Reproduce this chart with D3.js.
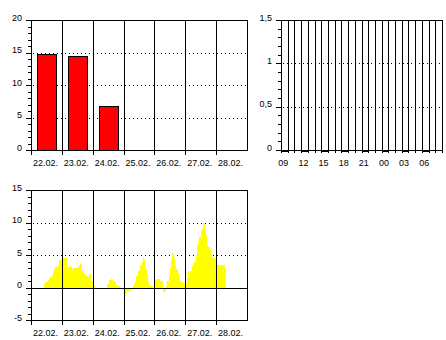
<!DOCTYPE html>
<meta charset="utf-8">
<style>
  body { margin: 0; background: #fff; }
  svg { display: block; font-family: "Liberation Sans", Arial, sans-serif; font-size: 9px; }
  .frame { fill: none; stroke: #000; shape-rendering: crispEdges; }
  .vline, .tick, .zero { stroke: #000; shape-rendering: crispEdges; }
  .grid { stroke: #000; stroke-dasharray: 1,3; }
  .bar { fill: #ff0000; stroke: #000; shape-rendering: crispEdges; }
  .area { fill: #ffff00; shape-rendering: crispEdges; }
</style>

<svg width="446" height="340"></svg>

<script src="https://d3js.org/d3.v7.min.js"></script>
<script>
// top left: daily totals
var days = ["22.02.", "23.02.", "24.02.", "25.02.", "26.02.", "27.02.", "28.02."];
var dayTotals = [14.7, 14.5, 6.7, null, null, null, null];
var ticks1 = [0, 5, 10, 15, 20];
var grid1 = [5, 10, 15];

// top right: last 24 hours (empty)
var hourLabels = ["09", "12", "15", "18", "21", "00", "03", "06"];
var ticks2 = [0, 0.5, 1, 1.5];
var grid2 = [0.5, 1];

// bottom: hourly values from 22.02. 10:00
var hourlyValues = [
  0.6, 0.8, 0.8, 1.1, 1.4, 1.6, 2.0, 2.5, 2.8, 3.1,
  3.3, 3.5, 4.2, 4.3, 4.5, 4.5, 4.5, 4.5, 3.0, 3.2,
  3.3, 3.2, 2.9, 3.0, 3.0, 3.0, 3.1, 3.5, 3.6, 3.6,
  2.5, 2.3, 2.0, 1.7, 1.6, 2.1, 2.1, 1.0, 0.5, 0.4,
  0, 0, 0, 0, 0, 0, 0, 0, 0, 0.5,
  0.5, 1.1, 1.3, 1.2, 1.0, 0.8, 0.4, 0.4, 0.3, 0.1,
  -0.3, -0.3, -1.0, -1.0, -0.8, -0.6, -0.5, -0.5, 0, 0.3,
  0.6, 1.0, 1.8, 2.5, 2.7, 3.5, 3.9, 4.5, 4.2, 2.8,
  2.0, 0.8, 0.3, 0.2, 0.2, -0.3, 1.1, 1.3, 1.3, 1.3,
  1.0, 1.0, 1.0, -0.7, -0.5, 0.3, 1.0, 2.0, 3.0, 4.3,
  5.3, 4.7, 3.5, 2.8, 2.2, 1.5, 1.0, 0.9, 0.7, 0.5,
  0.7, 1.5, 2.5, 1.8, 2.6, 3.3, 3.6, 4.0, 5.0, 6.5,
  7.0, 7.8, 8.8, 9.0, 9.9, 9.0, 8.0, 6.5, 6.2, 5.8,
  5.0, 4.7, 4.5, 4.4, 3.6, 3.5, 3.5, 3.4, 3.4, 3.5,
  3.4, 2.8
];
var ticks3 = [-5, 0, 5, 10, 15];
var grid3 = [5, 10];

var svg = d3.select("svg");
var px = function(v) { return Math.round(v) + 0.5; };
var comma = function(d) { return String(d).replace(".", ","); };

function yAxis(g, y, majors, minorStep, fmt) {
  var x0 = y.left;
  var lo = majors[0], hi = majors[majors.length - 1];
  var minors = d3.range(lo, hi + minorStep / 2, minorStep);
  g.selectAll(".minor").data(minors).enter().append("line")
    .attr("class", "tick")
    .attr("x1", x0 - 3).attr("x2", x0)
    .attr("y1", function(d) { return px(y(d)); })
    .attr("y2", function(d) { return px(y(d)); });
  g.selectAll(".major").data(majors).enter().append("line")
    .attr("class", "tick")
    .attr("x1", x0 - 5).attr("x2", x0)
    .attr("y1", function(d) { return px(y(d)); })
    .attr("y2", function(d) { return px(y(d)); });
  g.selectAll(".ylab").data(majors).enter().append("text")
    .attr("x", x0 - 9)
    .attr("y", function(d) { return y(d) + 0.5; })
    .attr("text-anchor", "end")
    .text(fmt);
}

function grid(g, y, vals, x0, x1) {
  g.selectAll(".grid").data(vals).enter().append("line")
    .attr("class", "grid")
    .attr("x1", x0 + 2).attr("x2", x1)
    .attr("y1", function(d) { return px(y(d)); })
    .attr("y2", function(d) { return px(y(d)); });
}

// ---- chart 1
var x1 = d3.scaleBand().domain(days).range([31, 247]);
var y1 = d3.scaleLinear().domain([0, 20]).range([150, 20]);
y1.left = 31;
var g1 = svg.append("g");
grid(g1, y1, grid1, 31, 247);
g1.selectAll(".bar").data(days.map(function(d, i) { return { day: d, v: dayTotals[i] }; })
    .filter(function(d) { return d.v != null; }))
  .enter().append("rect")
  .attr("class", "bar")
  .attr("x", function(d) { return px(x1(d.day) + x1.bandwidth() * 0.2); })
  .attr("width", Math.round(x1.bandwidth() * 0.6))
  .attr("y", function(d) { return px(y1(d.v)); })
  .attr("height", function(d) { return Math.round(y1(0) - y1(d.v)); });
g1.selectAll(".vline").data(days.slice(1)).enter().append("line")
  .attr("class", "vline")
  .attr("x1", function(d) { return px(x1(d)); })
  .attr("x2", function(d) { return px(x1(d)); })
  .attr("y1", 20).attr("y2", 155);
g1.append("line").attr("class", "tick")
  .attr("x1", px(31)).attr("x2", px(31)).attr("y1", 150).attr("y2", 155);
g1.append("rect").attr("class", "frame")
  .attr("x", px(31)).attr("y", px(20)).attr("width", 216).attr("height", 130);
yAxis(g1, y1, ticks1, 1, String);
g1.selectAll(".xlab").data(days).enter().append("text")
  .attr("x", function(d) { return x1(d) + x1.bandwidth() / 2 - 1; })
  .attr("y", 165.5)
  .attr("text-anchor", "middle")
  .text(function(d) { return d; });

// ---- chart 2
var start2 = new Date(2024, 1, 28, 9);
var x2 = d3.scaleTime().domain([start2, d3.timeHour.offset(start2, 24)]).range([281, 442]);
var y2 = d3.scaleLinear().domain([0, 1.5]).range([150, 20]);
y2.left = 281;
var g2 = svg.append("g");
grid(g2, y2, grid2, 281, 442);
var hours2 = d3.timeHour.range(start2, d3.timeHour.offset(start2, 25));
g2.selectAll(".vline").data(hours2).enter().append("line")
  .attr("class", "vline")
  .attr("x1", function(d) { return px(x2(d)); })
  .attr("x2", function(d) { return px(x2(d)); })
  .attr("y1", 20).attr("y2", 153);
g2.append("line").attr("class", "zero")
  .attr("x1", 281).attr("x2", 442).attr("y1", px(150)).attr("y2", px(150));
g2.append("line").attr("class", "zero")
  .attr("x1", 281).attr("x2", 442).attr("y1", px(20)).attr("y2", px(20));
var labelled = hourLabels.map(function(l, i) { return { label: l, t: d3.timeHour.offset(start2, i * 3) }; });
g2.selectAll(".hbar").data(labelled).enter().append("line")
  .attr("class", "tick")
  .attr("x1", function(d) { return px(x2(d.t)); })
  .attr("x2", function(d) { return px(x2(d3.timeHour.offset(d.t, 1))); })
  .attr("y1", 151.5).attr("y2", 151.5);
g2.selectAll(".xlab").data(labelled).enter().append("text")
  .attr("x", function(d) { return (x2(d.t) + x2(d3.timeHour.offset(d.t, 1))) / 2 - 1; })
  .attr("y", 165.5)
  .attr("text-anchor", "middle")
  .text(function(d) { return d.label; });
yAxis(g2, y2, ticks2, 0.1, comma);

// ---- chart 3
var start3 = new Date(2024, 1, 22);
var x3 = d3.scaleTime().domain([start3, d3.timeDay.offset(start3, 7)]).range([31, 247]);
var y3 = d3.scaleLinear().domain([-5, 15]).range([320, 190]);
y3.left = 31;
var g3 = svg.append("g");
grid(g3, y3, grid3, 31, 247);
var first = new Date(2024, 1, 22, 10);
var pts = hourlyValues.map(function(v, i) { return { t: d3.timeHour.offset(first, i), v: v }; });
pts.push({ t: d3.timeHour.offset(first, hourlyValues.length), v: hourlyValues[hourlyValues.length - 1] });
var area = d3.area()
  .x(function(d) { return x3(d.t); })
  .y0(y3(0))
  .y1(function(d) { return y3(d.v); })
  .curve(d3.curveStepAfter);
g3.append("path").datum(pts).attr("class", "area").attr("d", area);
var dayStarts = d3.timeDay.range(start3, d3.timeDay.offset(start3, 7));
g3.selectAll(".vline").data(dayStarts.slice(1)).enter().append("line")
  .attr("class", "vline")
  .attr("x1", function(d) { return px(x3(d)); })
  .attr("x2", function(d) { return px(x3(d)); })
  .attr("y1", 190).attr("y2", 325);
g3.append("line").attr("class", "tick")
  .attr("x1", px(31)).attr("x2", px(31)).attr("y1", 320).attr("y2", 325);
g3.append("line").attr("class", "zero")
  .attr("x1", 31).attr("x2", 247).attr("y1", px(y3(0))).attr("y2", px(y3(0)));
g3.append("rect").attr("class", "frame")
  .attr("x", px(31)).attr("y", px(190)).attr("width", 216).attr("height", 130);
yAxis(g3, y3, ticks3, 1, String);
g3.selectAll(".xlab").data(days).enter().append("text")
  .attr("x", function(d, i) { return x3(d3.timeHour.offset(start3, i * 24 + 12)) - 1; })
  .attr("y", 335.5)
  .attr("text-anchor", "middle")
  .text(function(d) { return d; });
</script>
